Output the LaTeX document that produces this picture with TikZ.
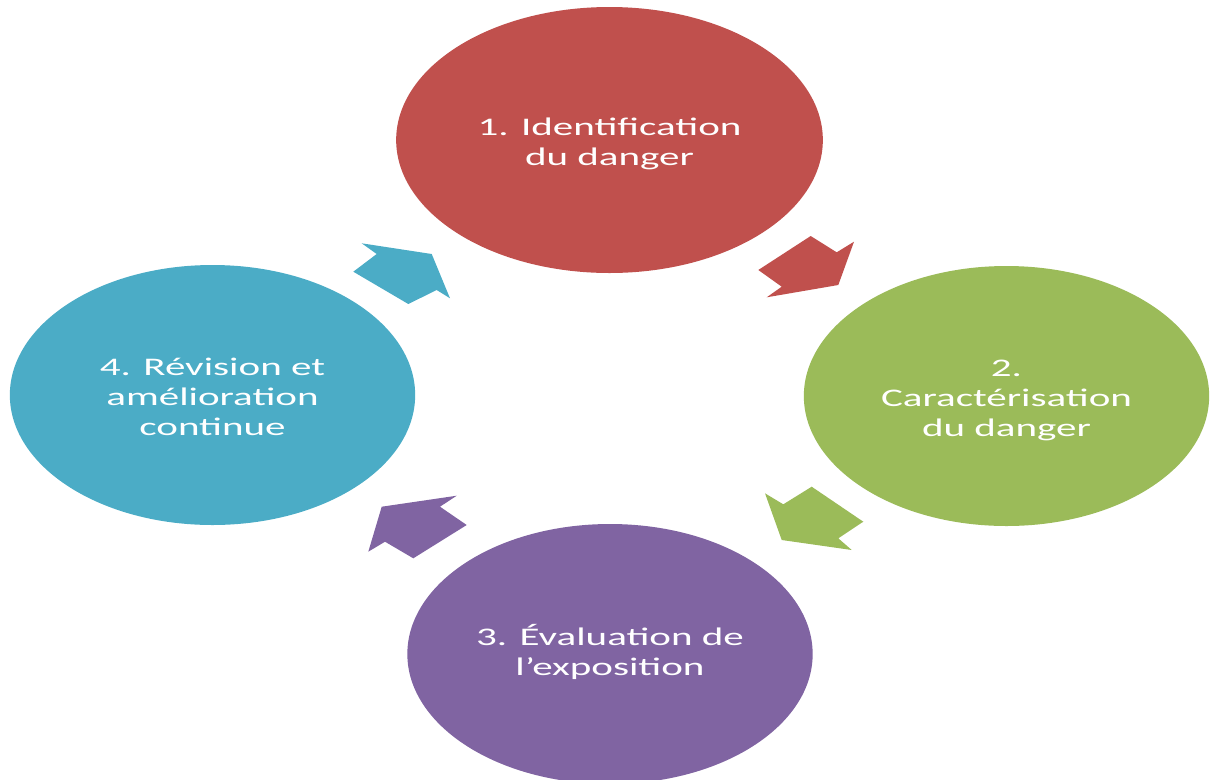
\documentclass[tikz,border=0pt]{standalone}
\usepackage{fontspec}
\usepackage{graphicx}
\setmainfont{Carlito}
\usetikzlibrary{shapes.geometric}

\definecolor{stepred}{HTML}{C0504D}
\definecolor{stepgreen}{HTML}{9BBB59}
\definecolor{steppurple}{HTML}{8064A2}
\definecolor{stepblue}{HTML}{4BACC6}

% text set wide, as in the stretched cycle layout
\newcommand\widetext[1]{\scalebox{1.62}[1]{\begin{tabular}{@{}c@{}}#1\end{tabular}}}
% the same, set a little lower without changing its box
\newcommand\lowtext[1]{\raisebox{-3pt}[\height][\depth]{\widetext{#1}}}

\begin{document}
\begin{tikzpicture}[x=0.75pt,y=-0.75pt,
  stage/.style={ellipse, inner sep=0pt, draw=none,
    minimum width=304pt, minimum height=195pt,
    text=white, font=\fontsize{19}{22.5}\selectfont},
  blockarrow/.style={draw=none}]
  \useasboundingbox (0,0) rectangle (1220,779);
  \clip (0,0) rectangle (1220,779);

  % the four stages of the cycle
  \node[stage, fill=stepred, minimum width=320pt, minimum height=199.5pt]
    (s1) at (609.5,140) {\lowtext{1. Identification\\du danger}};
  \node[stage, fill=stepgreen] (s2) at (1006.5,396)
    {\lowtext{2.\\Caractérisation\\du danger}};
  \node[stage, fill=steppurple] (s3) at (610,654)
    {\widetext{3. Évaluation de\\l’exposition}};
  \node[stage, fill=stepblue] (s4) at (212.5,395)
    {\lowtext{4. Révision et\\amélioration\\continue}};

  % block arrows between the stages
  \fill[blockarrow, stepred] (758.3,270) -- (810.7,236) -- (836.7,252.3)
    -- (854,241.7) -- (838.3,285) -- (766.7,297.3) -- (781.7,286.7) -- cycle;
  \fill[blockarrow, stepgreen] (811.7,486.7) -- (863.3,521.7) -- (838.3,538.3)
    -- (851.7,550) -- (781.7,540) -- (765,493.3) -- (783.3,504.3) -- cycle;
  \fill[blockarrow, steppurple] (466.7,525) -- (413.3,558.3) -- (385,541.7)
    -- (368.3,551.7) -- (381.7,506.7) -- (456.7,495.7) -- (440,506.7) -- cycle;
  \fill[blockarrow, stepblue] (353.3,271.7) -- (408.3,304) -- (436.7,290)
    -- (450,298.3) -- (431.7,254) -- (361.7,243.3) -- (376.7,254) -- cycle;
\end{tikzpicture}
\end{document}
